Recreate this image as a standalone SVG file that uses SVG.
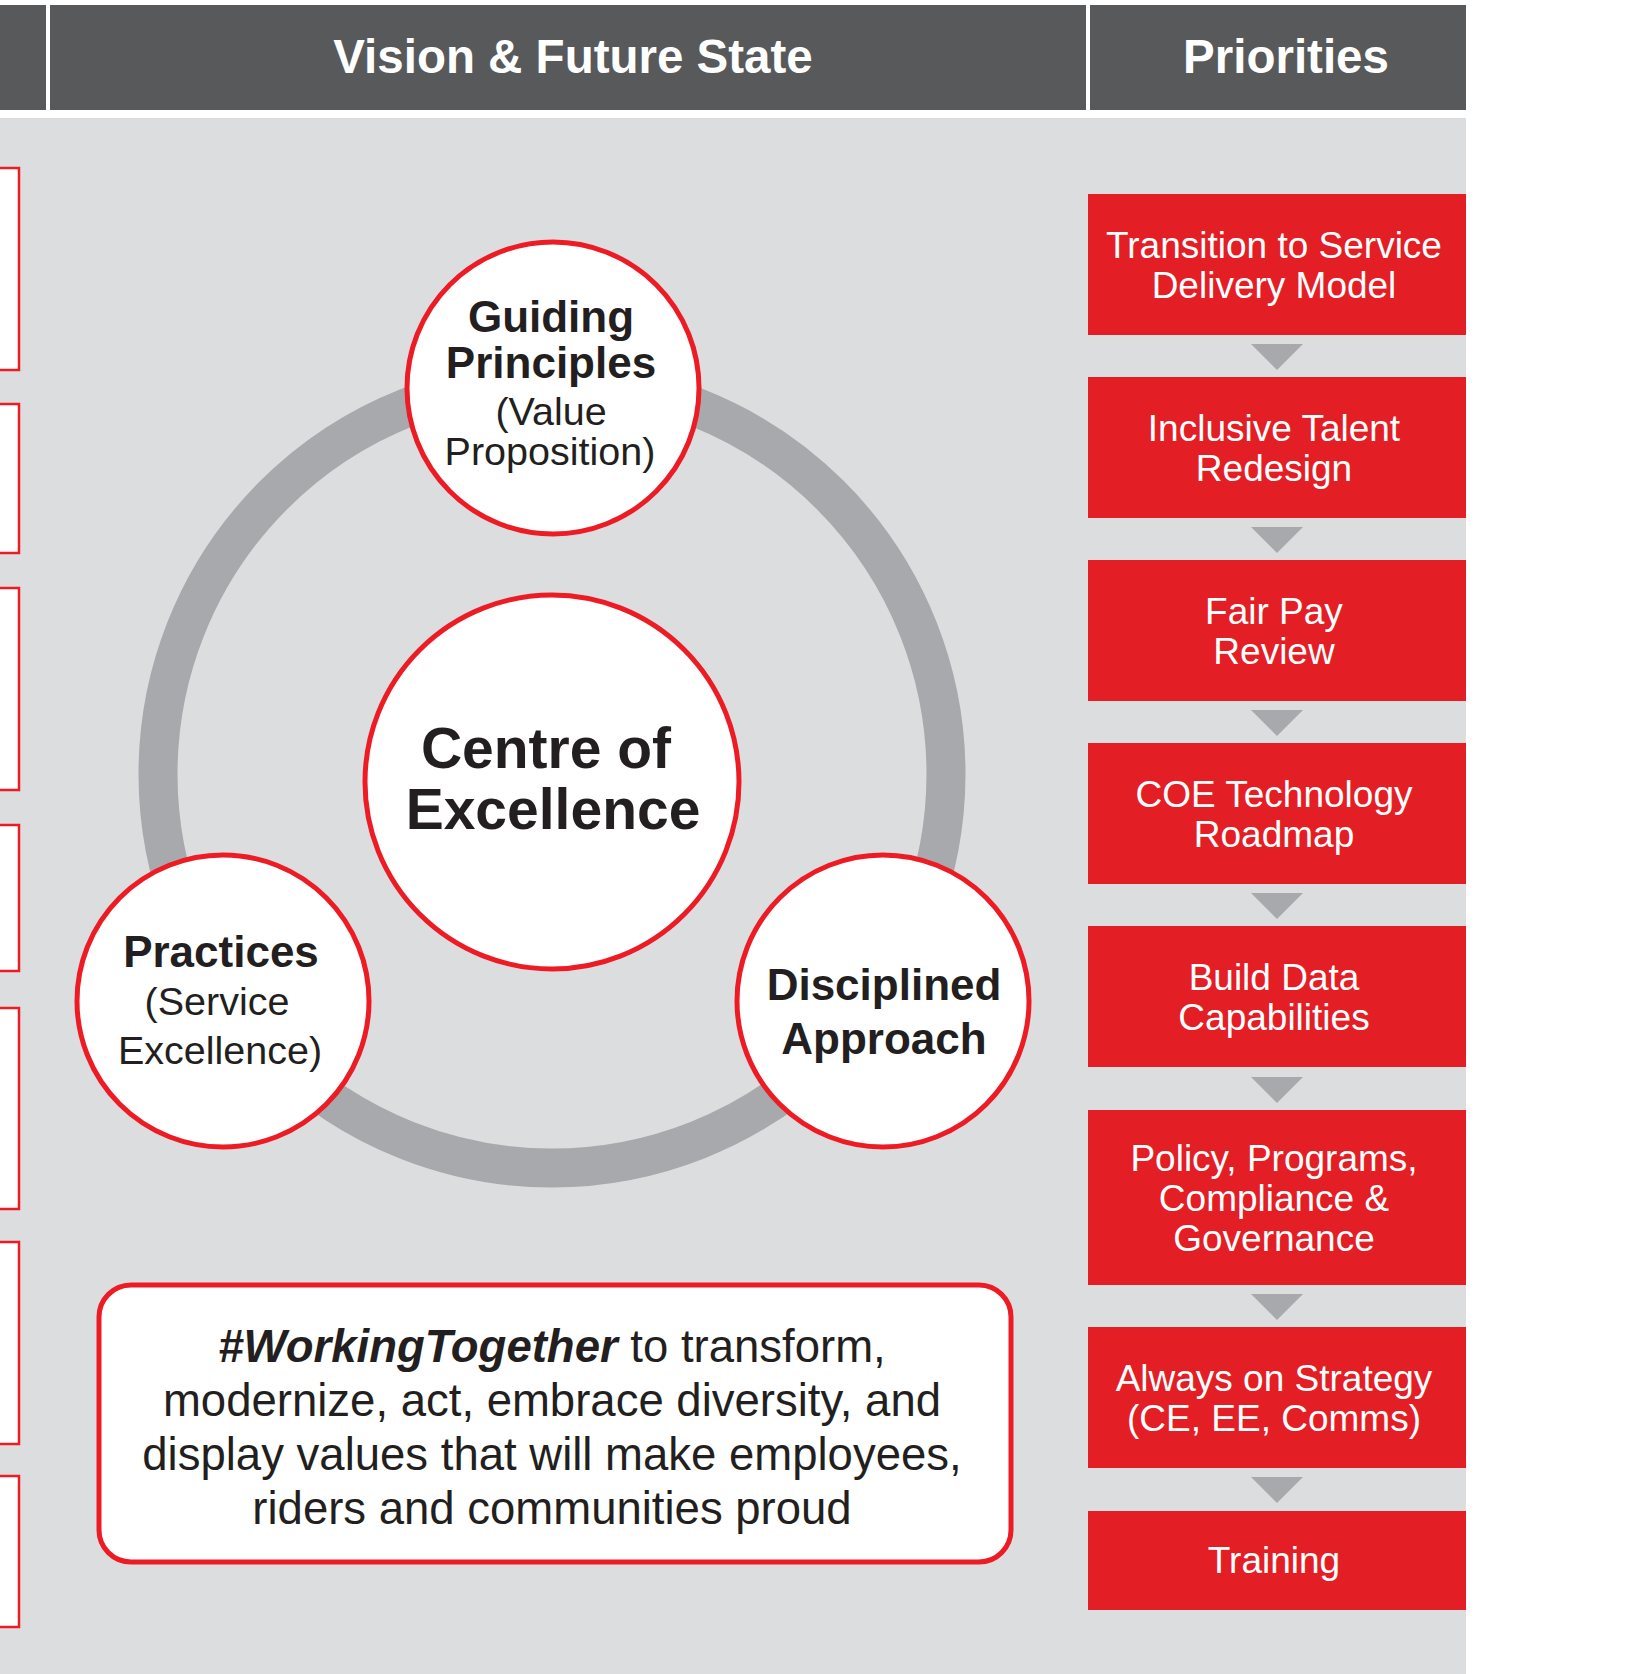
<svg xmlns="http://www.w3.org/2000/svg" width="1632" height="1674" viewBox="0 0 1632 1674">
<style>
text{font-family:"Liberation Sans",Arial,sans-serif;}
.hdr{fill:#58595b;}
.htxt{fill:#ffffff;font-weight:bold;font-size:47.5px;text-anchor:middle;}
.lbox{fill:#ffffff;stroke:#ed1c24;stroke-width:2.5;}
.pbox{fill:#e41e25;}
.ptxt{fill:#ffffff;font-size:37px;text-anchor:middle;}
.tri{fill:#a7a9ac;}
.circ{fill:#ffffff;stroke:#ed1c24;stroke-width:5;}
.ctb{fill:#231f20;font-weight:bold;font-size:44px;text-anchor:middle;}
.ctr{fill:#231f20;font-size:39.5px;text-anchor:middle;}
.qt{fill:#231f20;font-size:45.5px;text-anchor:middle;}
</style>
<rect x="0" y="0" width="1632" height="1674" fill="#ffffff"/>
<g id="background">
<rect x="0" y="118" width="1466" height="1556" fill="#dcdddf"/>
</g>
<g id="header">
<rect class="hdr" x="0" y="5" width="46" height="105"/>
<rect class="hdr" x="50" y="5" width="1036" height="105"/>
<rect class="hdr" x="1090" y="5" width="376" height="105"/>
<text class="htxt" x="573" y="73">Vision &amp; Future State</text>
<text class="htxt" x="1286" y="73">Priorities</text>
</g>
<g id="left-boxes">
<rect class="lbox" x="-10" y="168" width="29" height="202"/>
<rect class="lbox" x="-10" y="404" width="29" height="149"/>
<rect class="lbox" x="-10" y="588" width="29" height="202"/>
<rect class="lbox" x="-10" y="825" width="29" height="146"/>
<rect class="lbox" x="-10" y="1008" width="29" height="201"/>
<rect class="lbox" x="-10" y="1242" width="29" height="202"/>
<rect class="lbox" x="-10" y="1476" width="29" height="151"/>
</g>
<g id="connectors">
<circle cx="552" cy="774" r="394" fill="none" stroke="#a7a9ac" stroke-width="39"/>
<polygon class="tri" points="1251,344 1303,344 1277,370"/>
<polygon class="tri" points="1251,527 1303,527 1277,553"/>
<polygon class="tri" points="1251,710 1303,710 1277,736"/>
<polygon class="tri" points="1251,893 1303,893 1277,919"/>
<polygon class="tri" points="1251,1077 1303,1077 1277,1103"/>
<polygon class="tri" points="1251,1294 1303,1294 1277,1320"/>
<polygon class="tri" points="1251,1477 1303,1477 1277,1503"/>
</g>
<g id="guiding-principles">
<circle class="circ" cx="553" cy="388" r="146"/>
<text class="ctb" x="551" y="332">Guiding</text>
<text class="ctb" x="551" y="378">Principles</text>
<text class="ctr" x="551" y="425">(Value</text>
<text class="ctr" x="550" y="465">Proposition)</text>
</g>
<g id="centre-of-excellence">
<circle class="circ" cx="552" cy="782" r="187"/>
<text fill="#231f20" font-weight="bold" font-size="57" text-anchor="middle" x="546" y="768">Centre of</text>
<text fill="#231f20" font-weight="bold" font-size="57" text-anchor="middle" x="553" y="829">Excellence</text>
</g>
<g id="practices">
<circle class="circ" cx="223" cy="1001" r="146"/>
<text class="ctb" x="221" y="967">Practices</text>
<text class="ctr" x="217" y="1015">(Service</text>
<text class="ctr" x="220" y="1064">Excellence)</text>
</g>
<g id="disciplined-approach">
<circle class="circ" cx="883" cy="1001" r="146"/>
<text class="ctb" x="884" y="1000">Disciplined</text>
<text class="ctb" x="884" y="1054">Approach</text>
</g>
<g id="working-together">
<rect x="99" y="1285" width="912" height="277" rx="32" ry="32" fill="#ffffff" stroke="#ed1c24" stroke-width="5"/>
<text class="qt" x="552" y="1362"><tspan font-weight="bold" font-style="italic">#WorkingTogether</tspan> to transform,</text>
<text class="qt" x="552" y="1416">modernize, act, embrace diversity, and</text>
<text class="qt" x="552" y="1470">display values that will make employees,</text>
<text class="qt" x="552" y="1524">riders and communities proud</text>
</g>
<g id="p1"><rect class="pbox" x="1088" y="194" width="378" height="141"/>
<text class="ptxt" x="1274" y="258">Transition to Service</text><text class="ptxt" x="1274" y="298">Delivery Model</text></g>
<g id="p2"><rect class="pbox" x="1088" y="377" width="378" height="141"/>
<text class="ptxt" x="1274" y="441">Inclusive Talent</text><text class="ptxt" x="1274" y="481">Redesign</text></g>
<g id="p3"><rect class="pbox" x="1088" y="560" width="378" height="141"/>
<text class="ptxt" x="1274" y="624">Fair Pay</text><text class="ptxt" x="1274" y="664">Review</text></g>
<g id="p4"><rect class="pbox" x="1088" y="743" width="378" height="141"/>
<text class="ptxt" x="1274" y="807">COE Technology</text><text class="ptxt" x="1274" y="847">Roadmap</text></g>
<g id="p5"><rect class="pbox" x="1088" y="926" width="378" height="141"/>
<text class="ptxt" x="1274" y="990">Build Data</text><text class="ptxt" x="1274" y="1030">Capabilities</text></g>
<g id="p6"><rect class="pbox" x="1088" y="1110" width="378" height="175"/>
<text class="ptxt" x="1274" y="1171">Policy, Programs,</text><text class="ptxt" x="1274" y="1211">Compliance &amp;</text><text class="ptxt" x="1274" y="1251">Governance</text></g>
<g id="p7"><rect class="pbox" x="1088" y="1327" width="378" height="141"/>
<text class="ptxt" x="1274" y="1391">Always on Strategy</text><text class="ptxt" x="1274" y="1431">(CE, EE, Comms)</text></g>
<g id="p8"><rect class="pbox" x="1088" y="1511" width="378" height="99"/>
<text class="ptxt" x="1274" y="1573">Training</text></g>
</svg>
